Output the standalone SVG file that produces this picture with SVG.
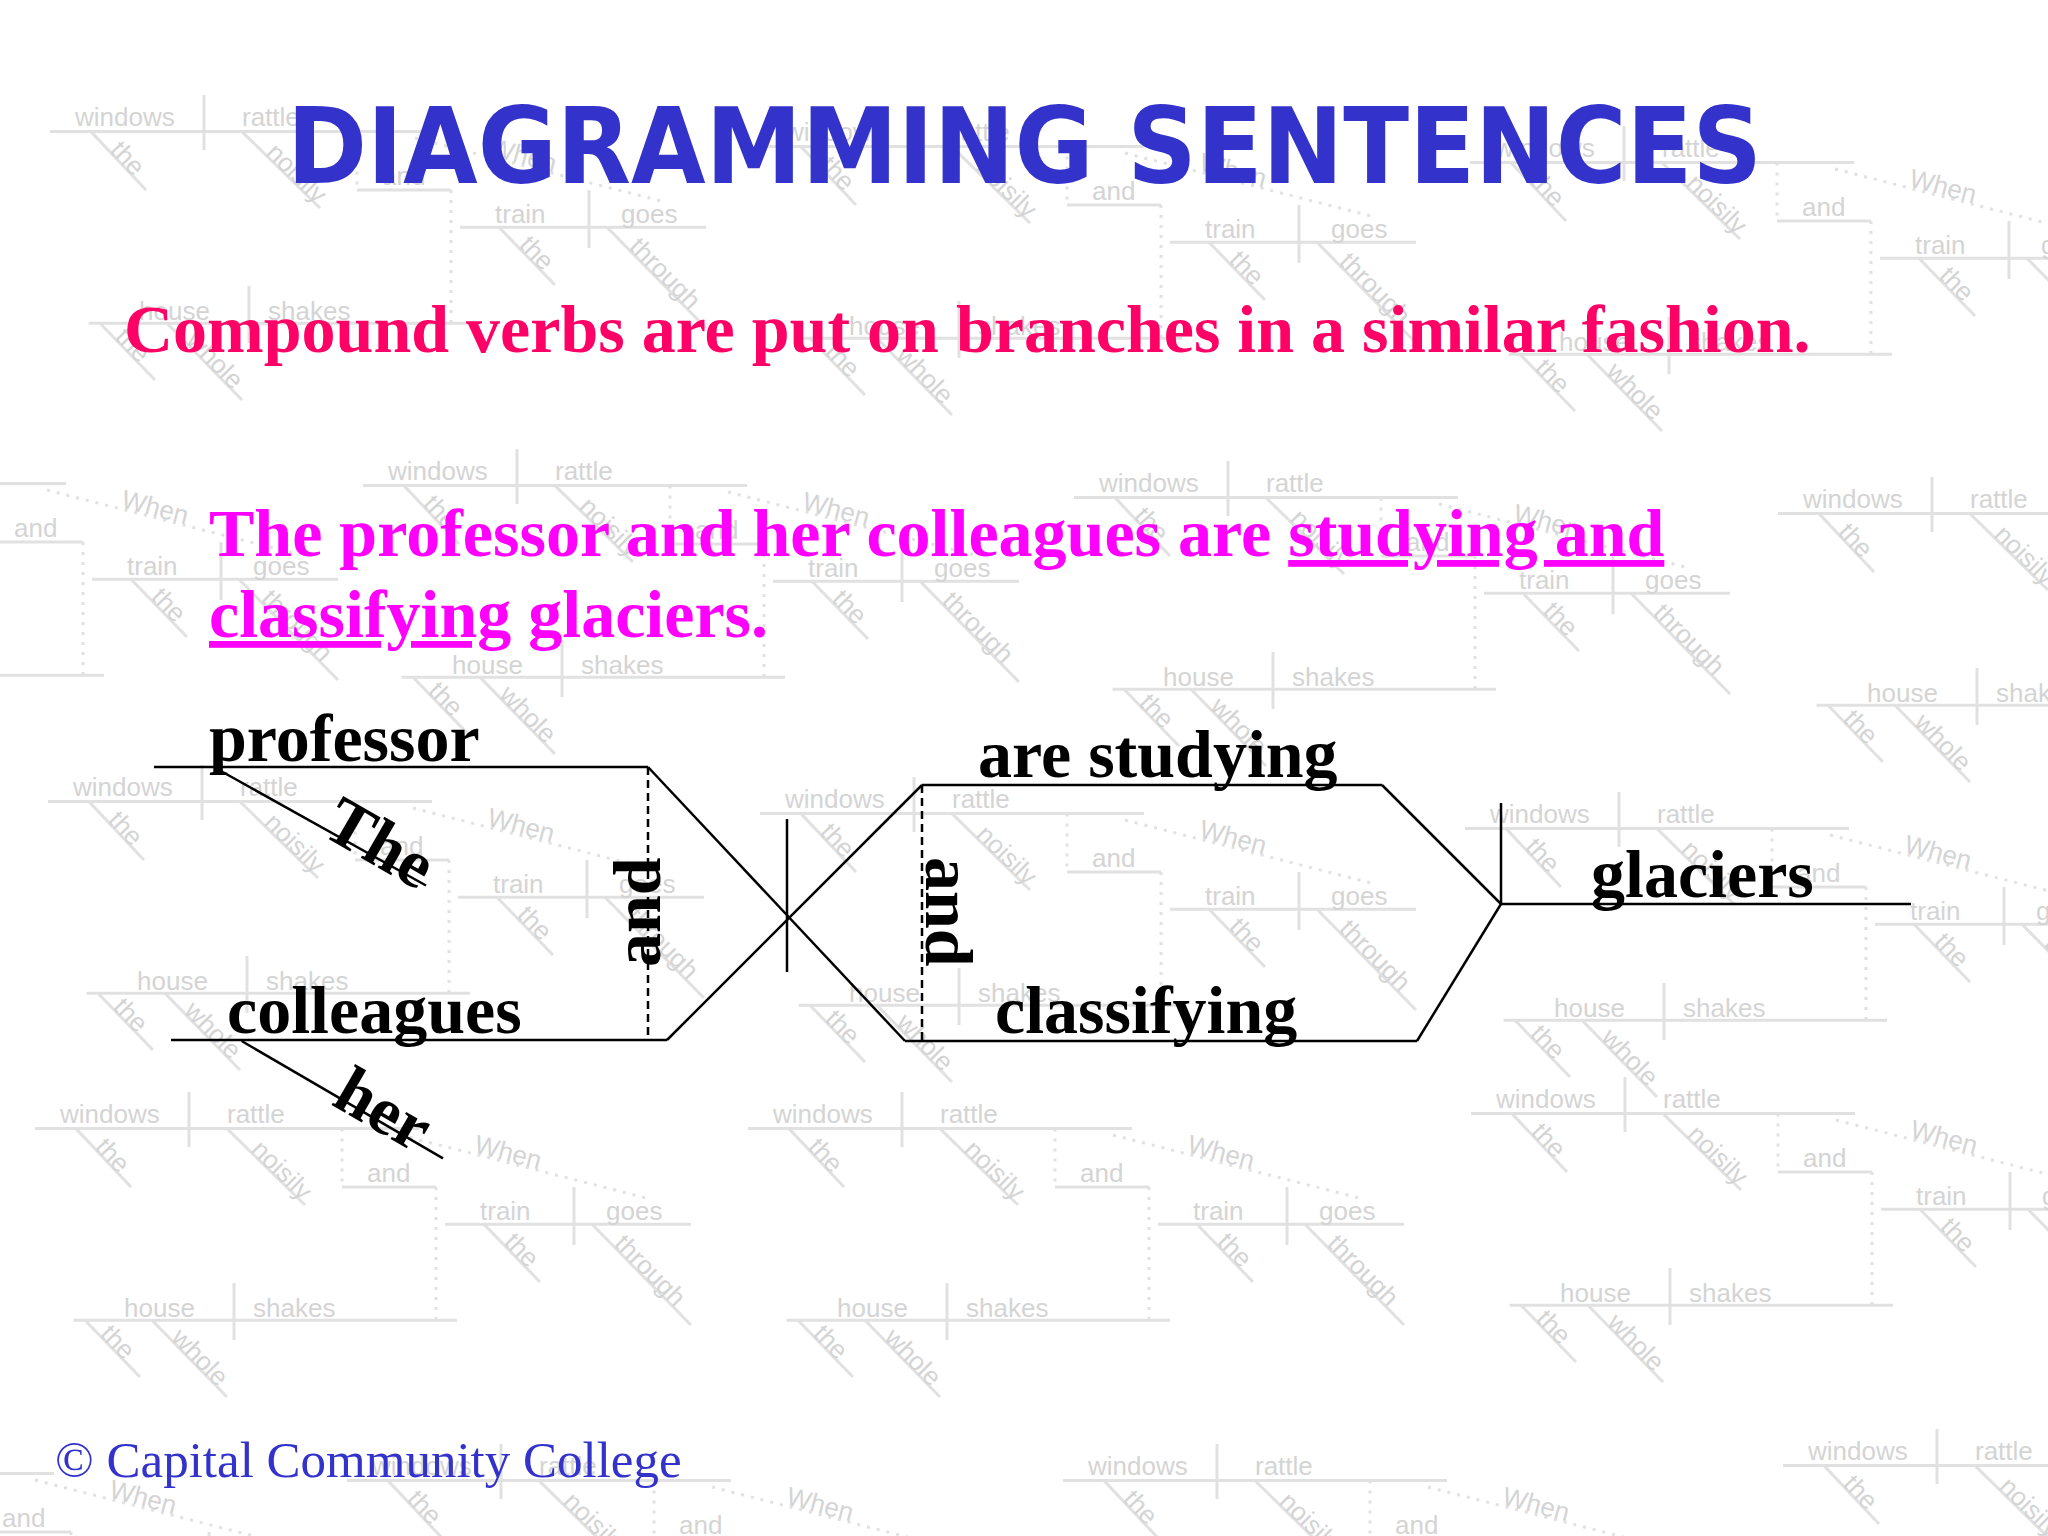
<svg xmlns="http://www.w3.org/2000/svg" width="2048" height="1536" viewBox="0 0 2048 1536">
<style>
.wmt{font-family:"Liberation Sans",Arial,sans-serif;font-size:26px;fill:#d4d4d4}
.wml{stroke:#e1e1e1;stroke-width:3;fill:none}
.wmd{stroke:#e1e1e1;stroke-width:3;stroke-dasharray:3 7;fill:none}
.w{font-family:"Liberation Serif","Times New Roman",serif;font-weight:bold;font-size:68px;fill:#000}
.ln{stroke:#000;stroke-width:2.5;fill:none}
.dash{stroke:#000;stroke-width:2.5;stroke-dasharray:8 5;fill:none}
.title{font-family:"DejaVu Sans",Verdana,sans-serif;font-weight:bold;font-size:106px;fill:#3333CC}
.sub{font-family:"Liberation Serif","Times New Roman",serif;font-weight:bold;font-size:68px}
.foot{font-family:"Liberation Serif","Times New Roman",serif;font-size:51px;fill:#3333CC}
</style>
<defs>
<g id="tile">
<path class="wml" d="M-25,5.6H359M129,-31V24M16,5.6L71,64M167,5.6L245,82M282,64H376M13.6,197.3H397M174,160V217M25,197.3L80,254M92,197.3L167,274M385,101.3H631M514,64V122M424,101.3L480,159M532,101.3L631,202"/>
<path class="wmd" d="M282,5.6V64M376,64V197M340,12L590,76"/>
<text class="wmt" x="0" y="0">windows</text>
<text class="wmt" x="167" y="0">rattle</text>
<text class="wmt" x="307" y="59">and</text>
<text class="wmt" x="64" y="194">house</text>
<text class="wmt" x="193" y="194">shakes</text>
<text class="wmt" x="420" y="97">train</text>
<text class="wmt" x="546" y="97">goes</text>
<text class="wmt" transform="translate(34,25) rotate(47)">the</text>
<text class="wmt" transform="translate(190,28) rotate(44.5)">noisily</text>
<text class="wmt" transform="translate(39,212) rotate(46)">the</text>
<text class="wmt" transform="translate(110,216) rotate(45.6)">whole</text>
<text class="wmt" transform="translate(443,120) rotate(46)">the</text>
<text class="wmt" transform="translate(553,122) rotate(45.5)">through</text>
<text class="wmt" transform="translate(413,29) rotate(15)">When</text>
</g>
</defs>
<rect width="2048" height="1536" fill="#ffffff"/>
<g id="watermark">
<use href="#tile" x="75" y="126"/>
<use href="#tile" x="785" y="141"/>
<use href="#tile" x="1495" y="157"/>
<use href="#tile" x="-293" y="478"/>
<use href="#tile" x="388" y="480"/>
<use href="#tile" x="1099" y="492"/>
<use href="#tile" x="1803" y="508"/>
<use href="#tile" x="73" y="796"/>
<use href="#tile" x="785" y="808"/>
<use href="#tile" x="1490" y="823"/>
<use href="#tile" x="60" y="1123"/>
<use href="#tile" x="773" y="1123"/>
<use href="#tile" x="1496" y="1108"/>
<use href="#tile" x="-305" y="1468"/>
<use href="#tile" x="372" y="1475"/>
<use href="#tile" x="1088" y="1475"/>
<use href="#tile" x="1808" y="1460"/>
</g>
<g id="title-text">
<text class="title" x="287" y="183" textLength="1475" lengthAdjust="spacingAndGlyphs">DIAGRAMMING SENTENCES</text>
</g>
<g id="subtitle">
<text class="sub" x="124" y="352" fill="#FF0066">Compound verbs are put on branches in a similar fashion.</text>
</g>
<g id="sentence">
<text class="sub" x="209" y="556" fill="#FF00FF">The professor and her colleagues are <tspan text-decoration="underline">studying and</tspan></text>
<text class="sub" x="209" y="637" fill="#FF00FF"><tspan text-decoration="underline">classifying</tspan> glaciers.</text>
</g>
<g id="connectors">
<path class="ln" d="M648,767L905,1041"/>
<path class="ln" d="M667,1040L922,785"/>
<path class="ln" d="M1382,785L1501,904"/>
<path class="ln" d="M1417,1041L1501,904"/>
<path class="ln" d="M787,819V972"/>
<path class="ln" d="M1501,803V904"/>
<path class="dash" d="M648,767V1040"/>
<path class="dash" d="M922,785V1041"/>
</g>
<g id="node-professor">
<path class="ln" d="M154,767H648"/>
<text class="w" x="209" y="761">professor</text>
</g>
<g id="node-the">
<path class="ln" d="M215.5,768L426,885.5"/>
<text class="w" transform="translate(320,834) rotate(30)">The</text>
</g>
<g id="node-colleagues">
<path class="ln" d="M171,1040H667"/>
<text class="w" x="227" y="1033">colleagues</text>
</g>
<g id="node-her">
<path class="ln" d="M241.6,1041L443,1158.4"/>
<text class="w" transform="translate(330,1104) rotate(30)">her</text>
</g>
<g id="node-and-subject">
<text class="w" transform="translate(660,967) rotate(-90)">and</text>
</g>
<g id="node-are-studying">
<path class="ln" d="M922,785H1382"/>
<text class="w" x="978" y="777">are studying</text>
</g>
<g id="node-classifying">
<path class="ln" d="M905,1041H1417"/>
<text class="w" x="995" y="1033">classifying</text>
</g>
<g id="node-and-verb">
<text class="w" transform="translate(926,857) rotate(90)">and</text>
</g>
<g id="node-glaciers">
<path class="ln" d="M1501,904H1911"/>
<text class="w" x="1591" y="897">glaciers</text>
</g>
<g id="footer">
<text class="foot" x="55" y="1477">© Capital Community College</text>
</g>
</svg>
